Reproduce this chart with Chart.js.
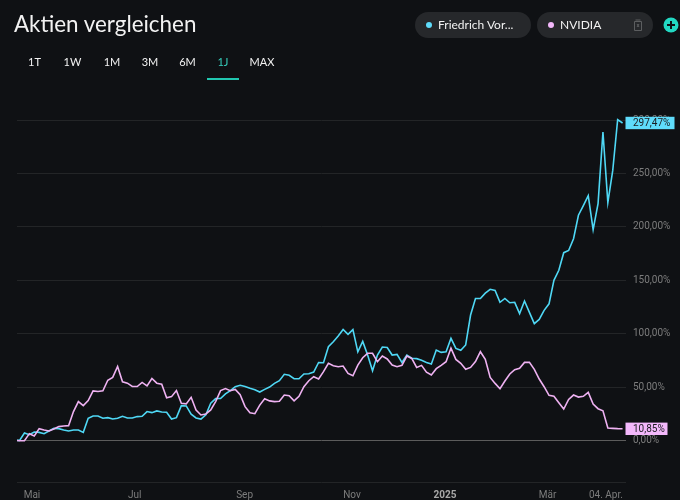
<!DOCTYPE html>
<html lang="de">
<head>
<meta charset="utf-8">
<title>Aktien vergleichen</title>
<script src="https://cdn.jsdelivr.net/npm/chart.js@4"></script>
<style>
  html, body { margin: 0; padding: 0; width: 680px; height: 500px; overflow: hidden; background: #0f1114; }
  body { position: relative; font-family: Lato, "Open Sans", sans-serif; color: #f2f2f2; }
  #chart { position: absolute; left: 0; top: 0; }
  h1 { position: absolute; left: 14px; top: 8px; margin: 0; font-size: 22.4px; line-height: 32px; font-weight: 400; }
  .tab { position: absolute; top: 54px; width: 40px; margin-left: -20px; text-align: center; font-size: 11px; line-height: 16px; }
  .tab.active { color: #35cdbb; }
  #underline { position: absolute; left: 207px; top: 78px; width: 32px; height: 2px; background: #21c7b0; }
  .pill { position: absolute; top: 12px; width: 116px; height: 26px; border-radius: 13px; background: #26282b; font-size: 12px; line-height: 26px; }
  .pill i { position: absolute; left: 11px; top: 10px; width: 6px; height: 6px; border-radius: 50%; }
  .pill span { position: absolute; left: 23px; }
  #trash { position: absolute; left: 97px; top: 7px; }
  #plus { position: absolute; left: 663px; top: 17px; }
</style>
</head>
<body>
<canvas id="chart" width="680" height="500"></canvas>
<h1>Aktien vergleichen</h1>
<div id="tabs"></div>
<div id="underline"></div>
<div class="pill" style="left:415px"><i style="background:#5fdcfb"></i><span>Friedrich Vor...</span></div>
<div class="pill" style="left:537px"><i style="background:#f3b8fb"></i><span>NVIDIA</span>
  <svg id="trash" width="8" height="12" viewBox="0 0 8 12" fill="none" stroke="#5c5e60" stroke-width="1"><path d="M0.5 2.5h7v9h-7zM1.5 1h5M3 5l2 3M5 5l-2 3"/></svg>
</div>
<svg id="plus" width="16" height="16" viewBox="0 0 16 16"><circle cx="8" cy="8" r="7.5" fill="#22d8c2"/><path d="M8 4v8M4 8h8" stroke="#0f1114" stroke-width="2"/></svg>

<script>
const TAB_LABELS = ["1T", "1W", "1M", "3M", "6M", "1J", "MAX"];
const TAB_CENTERS = [34.5, 72.5, 112, 150, 187.5, 223, 262];

// Friedrich Vorwerk, performance in percent
const vorwerkValues = [
  0, 0, 6.9, 5.3, 7.8, 7.5, 6.3, 8.8, 11.3, 11, 9.7, 8.8, 9.7, 9.7, 7.5, 20.7, 22.9, 22.9, 20.7, 21.3,
  20, 20.7, 22.6, 21, 21, 22.3, 22.6, 27, 26, 27.6, 26.6, 26.3, 20, 21.3, 32.6, 32.3, 24.5, 21, 20, 24,
  34.8, 39.2, 39.2, 43.6, 46.6, 50.3, 51.6, 50.6, 48.8, 47.5, 45.3, 47.8, 50, 53.4, 55.9, 61.9, 61, 57.8, 57.8, 62.2,
  62.5, 64, 73, 72.8, 87.8, 92.5, 97.8, 104, 99.4, 103.8, 83, 92.8, 80, 65.3, 80, 87.5, 87, 80, 80.6, 73,
  80, 77, 76.6, 75, 73, 71.6, 84.7, 82.5, 83, 95.6, 86.2, 84.4, 89.4, 117.5, 133, 133, 138, 141.6, 140.6, 129.4,
  133, 129, 129.4, 118.8, 130.6, 120, 109.4, 113.4, 121.9, 128, 150, 159.4, 175.9, 178, 189, 211, 220, 229.4, 197.5, 221.9,
  289, 223, 253, 300.6, 297.47
];

// NVIDIA, performance in percent
const nvidiaValues = [
  0, -0.3, -0.3, 6.3, 4.1, 11, 9.7, 8.8, 10.7, 12.9, 13.5, 13.8, 27, 36.4, 32.6, 37.3, 46.4, 45.8, 46.4, 56.4,
  59, 69.3, 54.9, 53.6, 50.5, 50.5, 54.3, 51, 58, 53.6, 52.7, 40, 41, 46.7, 34.8, 34.2, 40.4, 28.5, 23.8, 24.8,
  28.5, 36.4, 46.7, 48.6, 46.6, 47.8, 42.8, 31.6, 25.9, 25, 33.1, 39.1, 37, 36.3, 36.6, 42.5, 41.9, 37, 41.3, 50.3,
  55.9, 59.7, 57.5, 64.4, 72.2, 70, 69, 69.7, 62.8, 60.6, 70.6, 77.5, 81.6, 81.6, 73.7, 79, 76.3, 70.6, 69, 70.3,
  79, 76.8, 68.4, 70.3, 64, 61.3, 67.2, 70.3, 73.7, 86.5, 75.9, 72.2, 66.6, 68.4, 73.8, 83.1, 75.9, 59, 53.4, 48.4,
  55.6, 62.2, 66.3, 67.5, 73.1, 73.1, 66.6, 57.5, 50.3, 42.2, 41.3, 35.3, 29.4, 38.4, 42.5, 40.6, 41.3, 45, 34, 29.7,
  27.8, 11.6, 11.3, 11, 10.85
];

const xTickLabels = ["Mai", "Jul", "Sep", "Nov", "2025", "Mär", "04. Apr."];
const xTickIndexes = [3.54, 24.5, 46.9, 68.8, 87.8, 108.7, 120.6];
const yTickValues = [-39, 0, 50, 100, 150, 200, 250, 300];

const CYAN = "#4fd8f5";
const PINK = "#efb2f2";

const tabs = document.getElementById("tabs");
TAB_LABELS.forEach((label, i) => {
  const div = document.createElement("div");
  div.className = label === "1J" ? "tab active" : "tab";
  div.style.left = TAB_CENTERS[i] + "px";
  div.textContent = label;
  tabs.appendChild(div);
});

function formatPercent(value) {
  return value.toFixed(2).replace(".", ",") + "%";
}

// last value badges on the right of the plot
const badgePlugin = {
  id: "badges",
  afterDraw(chart) {
    const ctx = chart.ctx;
    const scale = chart.scales.y;
    const badges = [
      { value: vorwerkValues[vorwerkValues.length - 1], color: "#5fdcfb", width: 49 },
      { value: nvidiaValues[nvidiaValues.length - 1], color: "#f3b8fb", width: 42 }
    ];
    ctx.save();
    ctx.font = "10px Roboto, sans-serif";
    ctx.textBaseline = "middle";
    for (const badge of badges) {
      const y = scale.getPixelForValue(badge.value);
      ctx.fillStyle = badge.color;
      ctx.fillRect(chart.chartArea.right, y - 6.2, badge.width, 12.4);
      ctx.fillStyle = "#1b1c20";
      ctx.fillText(formatPercent(badge.value), chart.chartArea.right + 7.5, y + 0.5);
    }
    ctx.restore();
  }
};

new Chart(document.getElementById("chart"), {
  type: "line",
  data: {
    labels: vorwerkValues.map((v, i) => i),
    datasets: [
      { label: "NVIDIA", data: nvidiaValues, borderColor: PINK, order: 1 },
      { label: "Friedrich Vorwerk", data: vorwerkValues, borderColor: CYAN, order: 2 }
    ]
  },
  options: {
    responsive: false,
    animation: false,
    layout: { padding: { left: 17, top: 77.6, right: 0, bottom: 0 } },
    elements: {
      point: { radius: 0 },
      line: { borderWidth: 1.6, tension: 0 }
    },
    plugins: { legend: { display: false }, tooltip: { enabled: false } },
    scales: {
      x: {
        type: "linear",
        min: 0.48,
        max: 124.6,
        grid: { display: false },
        border: { display: false },
        afterBuildTicks: scale => {
          scale.ticks = xTickIndexes.map(value => ({ value }));
        },
        afterFit: scale => {
          scale.height = 18;
        },
        ticks: {
          autoSkip: false,
          maxRotation: 0,
          padding: -1,
          color: ctx => (ctx.index === 4 ? "#a8a8a8" : "#7d7d7d"),
          font: ctx => ({
            family: "Roboto, sans-serif",
            size: 10,
            weight: ctx.index === 4 ? "bold" : "normal"
          }),
          callback: (value, index) => xTickLabels[index]
        }
      },
      y: {
        position: "right",
        min: -39,
        max: 340,
        grid: {
          drawTicks: false,
          color: ctx => (ctx.tick.value === 0 ? "#5c5c5c" : "#232527"),
          lineWidth: 1
        },
        border: { display: false },
        afterBuildTicks: scale => {
          scale.ticks = yTickValues.map(value => ({ value }));
        },
        afterFit: scale => {
          scale.width = 54.5;
        },
        ticks: {
          padding: 7.5,
          color: "#7d7d7d",
          font: { family: "Roboto, sans-serif", size: 10 },
          callback: value => (value < 0 ? "" : formatPercent(value))
        }
      }
    }
  },
  plugins: [badgePlugin]
});
</script>
</body>
</html>
